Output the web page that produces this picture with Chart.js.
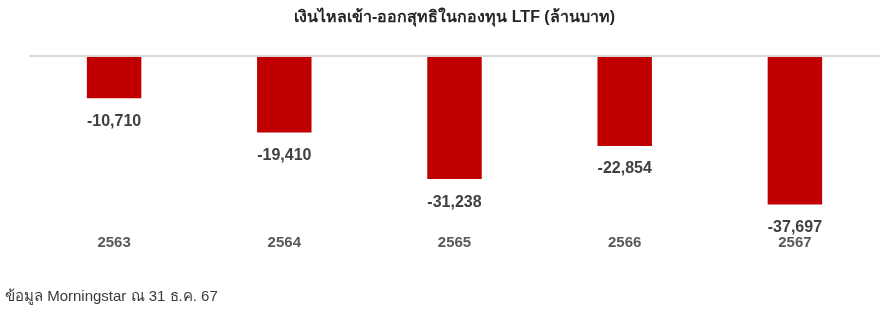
<!DOCTYPE html>
<html>
<head>
<meta charset="utf-8">
<script src="https://cdn.jsdelivr.net/npm/chart.js@4"></script>
<style>
    body { margin: 0; background: #fff; }
    #wrap { position: relative; width: 885px; height: 309px; }
    #note {
        position: absolute;
        left: 5px;
        top: 287px;
        font: 15px 'Liberation Sans', Arial, sans-serif;
        color: #3a3a3a;
        line-height: 18px;
    }
</style>
</head>
<body>
<div id="wrap">
    <canvas id="ltf-chart" width="885" height="309"></canvas>
    <div id="note">ข้อมูล Morningstar ณ 31 ธ.ค. 67</div>
</div>
<script>
const years = ['2563', '2564', '2565', '2566', '2567'];
const netFlow = [-10710, -19410, -31238, -22854, -37697];

const FONT = "'Liberation Sans', Arial, sans-serif";

// draw the value under each bar
const valueLabels = {
    id: 'valueLabels',
    afterDatasetsDraw(chart) {
        const ctx = chart.ctx;
        const meta = chart.getDatasetMeta(0);
        ctx.save();
        ctx.font = 'bold 16px ' + FONT;
        ctx.fillStyle = '#404040';
        ctx.textAlign = 'center';
        ctx.textBaseline = 'middle';
        meta.data.forEach((bar, i) => {
            const value = chart.data.datasets[0].data[i];
            ctx.fillText(value.toLocaleString('en-US'), bar.x, bar.y + 23);
        });
        ctx.restore();
    }
};

const ctx = document.getElementById('ltf-chart').getContext('2d');
new Chart(ctx, {
    type: 'bar',
    data: {
        labels: years,
        datasets: [{
            data: netFlow,
            backgroundColor: '#C00000',
            borderWidth: 0,
            categoryPercentage: 0.32,
            barPercentage: 1
        }]
    },
    options: {
        responsive: false,
        animation: false,
        layout: {
            padding: { left: 29, right: 5, top: 0, bottom: 55.5 }
        },
        plugins: {
            legend: { display: false },
            tooltip: { enabled: false },
            title: {
                display: true,
                text: 'เงินไหลเข้า-ออกสุทธิในกองทุน LTF (ล้านบาท)',
                color: '#262626',
                font: { family: FONT, size: 16, weight: 'bold' },
                padding: { top: 8, bottom: 28.8 }
            }
        },
        scales: {
            x: {
                grid: { display: false },
                border: { display: false },
                ticks: {
                    color: '#595959',
                    font: { family: FONT, size: 15, weight: 'bold' },
                    padding: 2
                }
            },
            y: {
                min: -42500,
                max: 0,
                border: { display: false },
                ticks: { display: false },
                grid: {
                    drawTicks: false,
                    lineWidth: 2,
                    color: c => (c.tick && c.tick.value === 0) ? '#D9D9D9' : 'rgba(0,0,0,0)'
                }
            }
        }
    },
    plugins: [valueLabels]
});
</script>
</body>
</html>
